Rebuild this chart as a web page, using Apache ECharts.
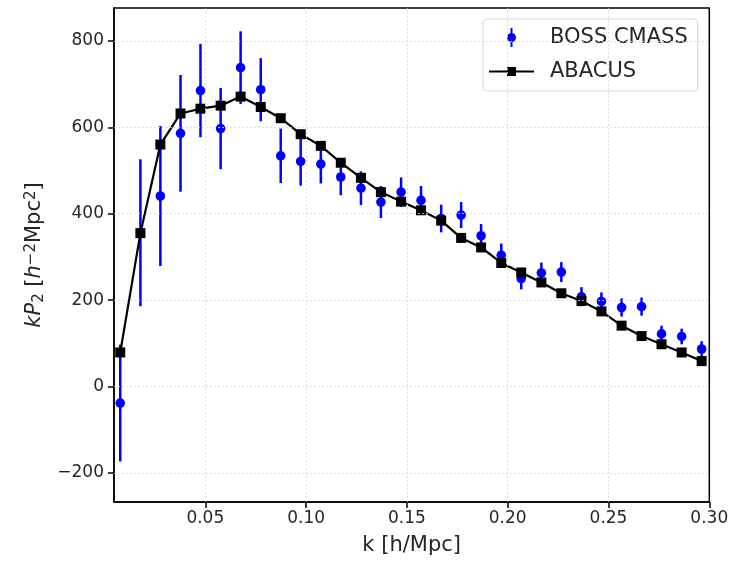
<!DOCTYPE html>
<html>
<head>
<meta charset="utf-8">
<script src="https://cdn.jsdelivr.net/npm/echarts@6/dist/echarts.min.js"></script>
<style>html,body{margin:0;padding:0;background:#fff;}#c{width:754px;height:561px;}</style>
</head>
<body>
<div id="c"></div>
<script>
// ---- data ----
const kVals = [0.0078,0.0178,0.0277,0.0377,0.0476,0.0576,0.0675,0.0775,0.0874,0.0973,
               0.1073,0.1172,0.1272,0.1371,0.1471,0.1570,0.1670,0.1769,0.1868,0.1968,
               0.2067,0.2167,0.2266,0.2366,0.2465,0.2565,0.2664,0.2763,0.2863,0.2962];
const bossVals = [-38,356,441,586,685,597,738,687,534,521,
                  515,485,459,427,450,431,389,397,349,304,
                  250,263,265,208,197,183,185,122,116,87];
const bossErr = [135,170,162,135,108,94,84,73,63,56,
                 45,42,39,37,34,33,32,30,27,27,
                 25,24,23,22,21,21,21,19,18,18];
const abacusVals = [79,355,560,632,643,650,671,647,621,584,
                    557,518,483,450,428,408,384,344,322,286,
                    264,241,216,198,174,141,117,98,79,59];
const xTicks = [0.05,0.10,0.15,0.20,0.25,0.30];
const yTicks = [-200,0,200,400,600,800];

const FONT = 'DejaVu Sans';
const TXT = '#262626';
const chart = echarts.init(document.getElementById('c'), null, {renderer:'canvas'});

const bossData = kVals.map((k,i)=>[k, bossVals[i], bossVals[i]-bossErr[i], bossVals[i]+bossErr[i]]);
const abacusData = kVals.map((k,i)=>[k, abacusVals[i]]);

const gridLines = xTicks.filter(v=>v<0.3).map(v=>({xAxis:v})).concat(yTicks.map(v=>({yAxis:v})));

const bossIcon = 'path://M0,0 M45,19 M21.5,0 L23.5,0 L23.5,19 L21.5,19 Z M18,9.5 A4.5,4.5 0 1,1 27,9.5 A4.5,4.5 0 1,1 18,9.5 Z';
const abacusIcon = 'path://M0,0 M45,19 M0,8.5 L45,8.5 L45,10.5 L0,10.5 Z M18,5 L27,5 L27,14 L18,14 Z';

chart.setOption({
  animation:false,
  backgroundColor:'#fff',
  grid:{left:114,right:44.7,top:8,bottom:57.5,show:true,borderColor:'#000',borderWidth:1.5},
  legend:{
    orient:'vertical', left:483, top:19,
    padding:[8,10,9,6], itemGap:13, itemWidth:45, itemHeight:19,
    backgroundColor:'rgba(255,255,255,0.8)', borderColor:'#d6d6d6', borderWidth:1, borderRadius:4,
    textStyle:{fontFamily:FONT,fontSize:21,color:TXT,padding:[0,0,0,11]},
    data:[{name:'BOSS CMASS',icon:bossIcon,itemStyle:{color:'#0000ff'}},
          {name:'ABACUS',icon:abacusIcon,itemStyle:{color:'#000'}}]
  },
  xAxis:{
    type:'value', min:0.0047, max:0.30,
    name:'k [h/Mpc]', nameLocation:'middle', nameGap:33,
    nameTextStyle:{fontFamily:FONT,fontSize:21,color:TXT},
    axisLine:{show:true,onZero:false,lineStyle:{color:'#000',width:1.5}},
    axisTick:{show:true,length:6,lineStyle:{color:'#000',width:1.5},customValues:xTicks},
    axisLabel:{fontFamily:FONT,fontSize:17,color:TXT,margin:8,customValues:xTicks,
               formatter:v=>Number(v).toFixed(2)},
    splitLine:{show:false}
  },
  yAxis:{
    type:'value', min:-267, max:876,
    name:'{i|kP}{sb|2}{n| [}{i|h}{sp|−2}{n|Mpc}{sp|2}{n|]}',
    nameLocation:'middle', nameGap:64, nameRotate:90,
    nameTextStyle:{fontFamily:FONT,fontSize:21,color:TXT,
      rich:{
        i:{fontFamily:FONT,fontSize:21,fontStyle:'italic',color:TXT},
        n:{fontFamily:FONT,fontSize:21,color:TXT},
        sb:{fontFamily:FONT,fontSize:15,color:TXT,verticalAlign:'bottom',padding:[8,0,0,0]},
        sp:{fontFamily:FONT,fontSize:15,color:TXT,verticalAlign:'top',padding:[0,0,8,0]}
      }},
    axisLine:{show:true,onZero:false,lineStyle:{color:'#000',width:1.5}},
    axisTick:{show:true,length:6,lineStyle:{color:'#000',width:1.5},customValues:yTicks},
    axisLabel:{fontFamily:FONT,fontSize:17,color:TXT,margin:10,customValues:yTicks,
               formatter:v=>v<0?'\u2212'+Math.abs(v):String(v)},
    splitLine:{show:false}
  },
  series:[
    {
      name:'grid', type:'line', data:[], silent:true, z:0,
      markLine:{silent:true,symbol:['none','none'],label:{show:false},animation:false,
        lineStyle:{color:'#d8d8d8',width:0.8,type:[2,2]},emphasis:{disabled:true},
        data:gridLines}
    },
    {
      name:'BOSS CMASS', type:'custom', z:2, silent:true,
      data:bossData, encode:{x:0,y:[1,2,3]},
      itemStyle:{color:'#0000ff'},
      renderItem:function(params, api){
        const x = api.value(0);
        const c = api.coord([x, api.value(1)]);
        const p1 = api.coord([x, api.value(2)]);
        const p2 = api.coord([x, api.value(3)]);
        return {type:'group', children:[
          {type:'line', shape:{x1:p1[0],y1:p1[1],x2:p2[0],y2:p2[1]},
           style:{stroke:'#0000ff',lineWidth:2.5,fill:null}},
          {type:'circle', shape:{cx:c[0],cy:c[1],r:4.8},
           style:{fill:'#0000ff',stroke:null}}
        ]};
      }
    },
    {
      name:'ABACUS', type:'line', z:4, silent:true,
      data:abacusData, symbol:'rect', symbolSize:10, showAllSymbol:true,
      lineStyle:{color:'#000',width:2.2}, itemStyle:{color:'#000'},
      emphasis:{disabled:true}
    }
  ]
});
</script>
</body>
</html>
